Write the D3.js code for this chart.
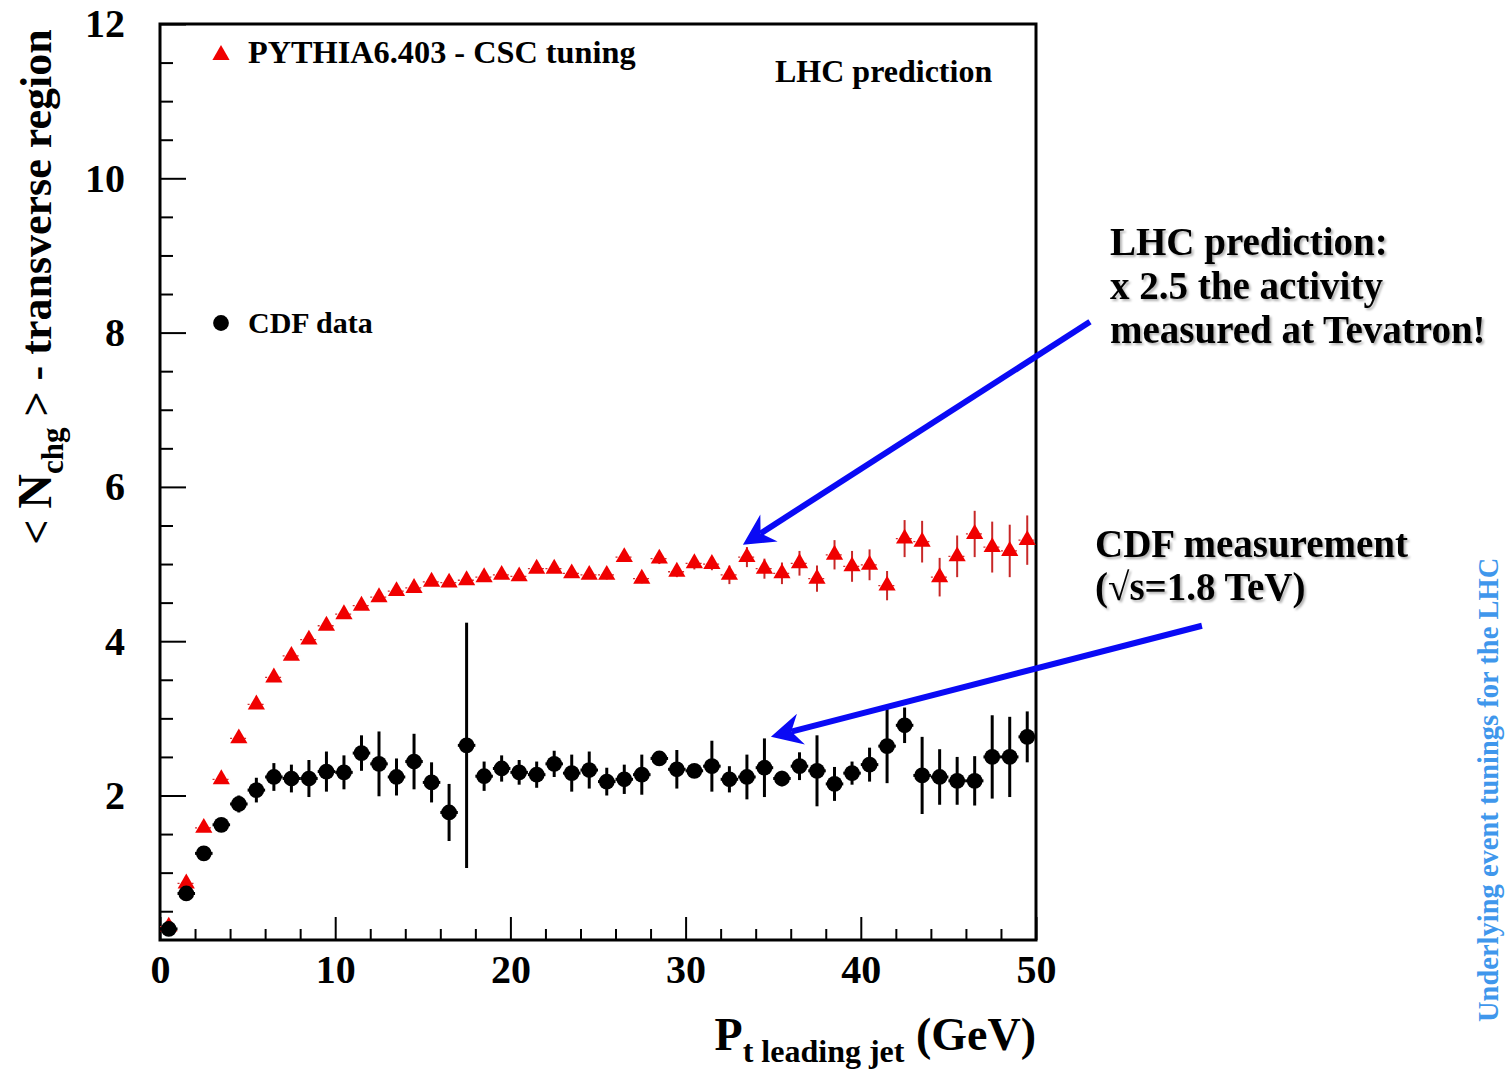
<!DOCTYPE html>
<html>
<head>
<meta charset="utf-8">
<script src="https://cdn.jsdelivr.net/npm/d3@7"></script>
<style>
  html, body { margin: 0; padding: 0; background: #fff; }
  svg { display: block; }
  text { font-family: "Liberation Serif", "Times New Roman", serif; font-weight: bold; }
</style>
</head>
<body>
<svg id="chart" width="1505" height="1071"></svg>
<script>
// Leading-jet pT bin centres (GeV), 1 GeV wide bins
const ptBins = [0.5, 1.5, 2.5, 3.5, 4.5, 5.5, 6.5, 7.5, 8.5, 9.5,
  10.5, 11.5, 12.5, 13.5, 14.5, 15.5, 16.5, 17.5, 18.5, 19.5,
  20.5, 21.5, 22.5, 23.5, 24.5, 25.5, 26.5, 27.5, 28.5, 29.5,
  30.5, 31.5, 32.5, 33.5, 34.5, 35.5, 36.5, 37.5, 38.5, 39.5,
  40.5, 41.5, 42.5, 43.5, 44.5, 45.5, 46.5, 47.5, 48.5, 49.5];

// PYTHIA6.403 CSC tuning, LHC prediction: <N_chg> in the transverse region
const pythiaMean = [0.30, 0.86, 1.58, 2.21, 2.74, 3.18, 3.53, 3.81, 4.02, 4.20,
  4.35, 4.46, 4.57, 4.65, 4.69, 4.77, 4.76, 4.79, 4.83, 4.86,
  4.84, 4.94, 4.94, 4.88, 4.86, 4.86, 5.09, 4.81, 5.07, 4.90,
  5.01, 5.00, 4.86, 5.09, 4.94, 4.88, 5.01, 4.81, 5.12, 4.97,
  4.99, 4.72, 5.33, 5.29, 4.83, 5.10, 5.39, 5.22, 5.17, 5.31];
const pythiaErr = [0.01, 0.01, 0.01, 0.01, 0.02, 0.02, 0.02, 0.02, 0.02, 0.02,
  0.03, 0.03, 0.03, 0.03, 0.03, 0.03, 0.04, 0.04, 0.04, 0.04,
  0.05, 0.05, 0.05, 0.05, 0.05, 0.06, 0.06, 0.06, 0.07, 0.07,
  0.08, 0.08, 0.12, 0.13, 0.13, 0.14, 0.16, 0.17, 0.19, 0.20,
  0.20, 0.19, 0.24, 0.27, 0.25, 0.27, 0.30, 0.33, 0.34, 0.32];

// CDF data at sqrt(s) = 1.8 TeV
const cdfMean = [0.27, 0.73, 1.25, 1.62, 1.89, 2.07, 2.24, 2.22, 2.22, 2.31,
  2.30, 2.55, 2.41, 2.24, 2.44, 2.17, 1.78, 2.65, 2.25, 2.35,
  2.30, 2.27, 2.41, 2.29, 2.33, 2.18, 2.21, 2.27, 2.48, 2.34,
  2.32, 2.38, 2.21, 2.24, 2.36, 2.22, 2.38, 2.32, 2.15, 2.29,
  2.40, 2.64, 2.91, 2.26, 2.24, 2.19, 2.19, 2.50, 2.50, 2.76];
const cdfErr = [0.02, 0.03, 0.04, 0.06, 0.11, 0.16, 0.18, 0.18, 0.24, 0.26,
  0.22, 0.23, 0.42, 0.24, 0.36, 0.26, 0.37, 1.59, 0.19, 0.17,
  0.16, 0.17, 0.17, 0.24, 0.24, 0.18, 0.19, 0.26, 0.09, 0.25,
  0.08, 0.33, 0.17, 0.29, 0.38, 0.10, 0.18, 0.46, 0.22, 0.15,
  0.22, 0.48, 0.23, 0.50, 0.36, 0.31, 0.32, 0.54, 0.52, 0.33];

// Axis ticks
const xMajorTicks = [0, 10, 20, 30, 40, 50];
const xMinorTicks = [2, 4, 6, 8, 12, 14, 16, 18, 22, 24, 26, 28, 32, 34, 36, 38, 42, 44, 46, 48];
const yMajorTicks = [2, 4, 6, 8, 10, 12];
const yMinorTicks = [0.5, 1, 1.5, 2.5, 3, 3.5, 4.5, 5, 5.5, 6.5, 7, 7.5, 8.5, 9, 9.5, 10.5, 11, 11.5];
const binHalfWidth = 0.5;

const svg = d3.select("#chart");
const frame = { left: 160, right: 1036, top: 24, bottom: 940 };

const x = d3.scaleLinear().domain([0, 50]).range([frame.left, frame.right]);
const y = d3.scaleLinear().domain([0.127, 12]).range([frame.bottom, frame.top]);

const triSize = 128, dotSize = 195;

const defs = svg.append("defs");
const shadow = defs.append("filter").attr("id", "txtShadow")
  .attr("x", "-5%").attr("y", "-20%").attr("width", "115%").attr("height", "150%");
shadow.append("feDropShadow").attr("dx", 2).attr("dy", 2).attr("stdDeviation", 1)
  .attr("flood-color", "#000").attr("flood-opacity", 0.3);

// ---- axes (ROOT style: ticks pointing inwards) ----
const yAxisMajor = svg.append("g").attr("transform", `translate(${frame.left},0)`)
  .call(d3.axisLeft(y).tickValues(yMajorTicks).tickSize(-26).tickPadding(35).tickFormat(d3.format("d")));
const yAxisMinor = svg.append("g").attr("transform", `translate(${frame.left},0)`)
  .call(d3.axisLeft(y).tickValues(yMinorTicks).tickSize(-13).tickFormat(""));
const xAxisMajor = svg.append("g").attr("transform", `translate(0,${frame.bottom})`)
  .call(d3.axisBottom(x).tickValues(xMajorTicks).tickSize(-23).tickPadding(15).tickFormat(d3.format("d")));
const xAxisMinor = svg.append("g").attr("transform", `translate(0,${frame.bottom})`)
  .call(d3.axisBottom(x).tickValues(xMinorTicks).tickSize(-11).tickFormat(""));

[yAxisMajor, yAxisMinor, xAxisMajor, xAxisMinor].forEach(g => {
  g.select(".domain").remove();
  g.selectAll(".tick line").attr("stroke", "#000").attr("stroke-width", 2);
  g.selectAll(".tick text").attr("fill", "#000")
    .style("font-family", "'Liberation Serif', serif").style("font-weight", "bold")
    .style("font-size", "40px");
});

// frame
svg.append("rect")
  .attr("x", frame.left).attr("y", frame.top)
  .attr("width", frame.right - frame.left).attr("height", frame.bottom - frame.top)
  .attr("fill", "none").attr("stroke", "#000").attr("stroke-width", 3);

// ---- data ----
const pythia = ptBins.map((pt, i) => ({ pt, v: pythiaMean[i], e: pythiaErr[i] }));
const cdf = ptBins.map((pt, i) => ({ pt, v: cdfMean[i], e: cdfErr[i] }));

// PYTHIA: red triangles with thin error bars
const gP = svg.append("g").attr("class", "pythia");
gP.selectAll("line.xerr").data(pythia).join("line").attr("class", "xerr")
  .attr("x1", d => x(d.pt - binHalfWidth)).attr("x2", d => x(d.pt + binHalfWidth))
  .attr("y1", d => y(d.v)).attr("y2", d => y(d.v))
  .attr("stroke", "#d23030").attr("stroke-width", 1.3).attr("stroke-dasharray", "2,1.5");
gP.selectAll("line.yerr").data(pythia).join("line").attr("class", "yerr")
  .attr("x1", d => x(d.pt)).attr("x2", d => x(d.pt))
  .attr("y1", d => y(d.v - d.e)).attr("y2", d => y(d.v + d.e))
  .attr("stroke", "#c82828").attr("stroke-width", 2);
gP.selectAll("path.mk").data(pythia).join("path").attr("class", "mk")
  .attr("transform", d => `translate(${x(d.pt)},${y(d.v)})`)
  .attr("d", d3.symbol(d3.symbolTriangle, triSize))
  .attr("fill", "#f00000");

// CDF: black filled circles
const gC = svg.append("g").attr("class", "cdf");
gC.selectAll("line.xerr").data(cdf).join("line").attr("class", "xerr")
  .attr("x1", d => x(d.pt - binHalfWidth)).attr("x2", d => x(d.pt + binHalfWidth))
  .attr("y1", d => y(d.v)).attr("y2", d => y(d.v))
  .attr("stroke", "#000").attr("stroke-width", 3);
gC.selectAll("line.yerr").data(cdf).join("line").attr("class", "yerr")
  .attr("x1", d => x(d.pt)).attr("x2", d => x(d.pt))
  .attr("y1", d => y(d.v - d.e)).attr("y2", d => y(d.v + d.e))
  .attr("stroke", "#000").attr("stroke-width", 3);
gC.selectAll("path.mk").data(cdf).join("path").attr("class", "mk")
  .attr("transform", d => `translate(${x(d.pt)},${y(d.v)})`)
  .attr("d", d3.symbol(d3.symbolCircle, dotSize))
  .attr("fill", "#000");

// ---- legend and in-frame labels ----
svg.append("path").attr("transform", "translate(221,55)")
  .attr("d", d3.symbol(d3.symbolTriangle, triSize)).attr("fill", "#f00000");
svg.append("text").attr("x", 248).attr("y", 63).style("font-size", "32.3px")
  .text("PYTHIA6.403 - CSC tuning");
svg.append("text").attr("x", 775).attr("y", 82).style("font-size", "32px")
  .text("LHC prediction");
svg.append("path").attr("transform", "translate(221,323)")
  .attr("d", d3.symbol(d3.symbolCircle, dotSize)).attr("fill", "#000");
svg.append("text").attr("x", 248).attr("y", 333).style("font-size", "30px")
  .text("CDF data");

// ---- axis titles ----
const yTitle = svg.append("text")
  .attr("transform", "translate(51,287) rotate(-90)")
  .attr("text-anchor", "middle").style("font-size", "44px");
yTitle.append("tspan").text("< ");
yTitle.append("tspan").style("font-size", "48px").text("N");
yTitle.append("tspan").attr("dy", 12).style("font-size", "31px").text("chg");
yTitle.append("tspan").attr("dy", -12).text(" > - transverse region");

const xTitle = svg.append("text").attr("x", 1036).attr("y", 1050)
  .attr("text-anchor", "end").style("font-size", "46px");
xTitle.append("tspan").text("P");
xTitle.append("tspan").attr("dy", 12).style("font-size", "32px").text("t leading jet");
xTitle.append("tspan").attr("dy", -12).text(" (GeV)");

// ---- annotations with arrows ----
const arrowBlue = "#0a0af5";
function arrow(fromPt, toPt) {
  const x0 = x(fromPt[0]), y0 = y(fromPt[1]);
  const x1 = x(toPt[0]), y1 = y(toPt[1]);
  const ang = Math.atan2(y1 - y0, x1 - x0);
  const headLen = 31, headHalf = 16, notch = 21;
  const ux = Math.cos(ang), uy = Math.sin(ang);
  const px = -uy, py = ux;
  svg.append("line")
    .attr("x1", x0).attr("y1", y0)
    .attr("x2", x1 - ux * notch).attr("y2", y1 - uy * notch)
    .attr("stroke", arrowBlue).attr("stroke-width", 6);
  const pts = [
    [x1, y1],
    [x1 - ux * headLen + px * headHalf, y1 - uy * headLen + py * headHalf],
    [x1 - ux * notch, y1 - uy * notch],
    [x1 - ux * headLen - px * headHalf, y1 - uy * headLen - py * headHalf]
  ];
  svg.append("polygon").attr("points", pts.map(p => p.join(",")).join(" "))
    .attr("fill", arrowBlue);
}
arrow([53.08, 8.14], [33.27, 5.25]);
arrow([59.47, 4.20], [34.87, 2.76]);

const note = svg.append("g").attr("filter", "url(#txtShadow)").style("font-size", "39px");
note.append("text").attr("x", 1110).attr("y", 255).text("LHC prediction:");
note.append("text").attr("x", 1110).attr("y", 299).text("x 2.5 the activity");
note.append("text").attr("x", 1110).attr("y", 343).text("measured at Tevatron!");
note.append("text").attr("x", 1095).attr("y", 557).text("CDF measurement");
note.append("text").attr("x", 1095).attr("y", 600).text("(\u221As=1.8 TeV)");

// side caption
svg.append("text")
  .attr("transform", "translate(1498,1022) rotate(-90)")
  .attr("fill", "#3f97ec").style("font-size", "28.5px")
  .text("Underlying event tunings for the LHC");
</script>
</body>
</html>
